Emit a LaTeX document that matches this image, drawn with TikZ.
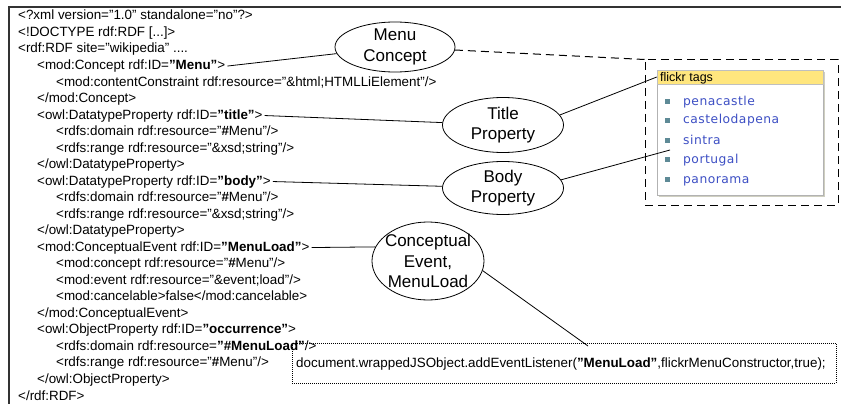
\documentclass[tikz,border=0pt]{standalone}
\usepackage{fontspec}
\setmainfont{Liberation Sans}
\newfontfamily\tagfont[LetterSpace=4]{DejaVu Sans}
\usetikzlibrary{shapes.geometric}
\definecolor{outline}{HTML}{333333}
\definecolor{tagblue}{HTML}{3D4FC4}
\definecolor{hdryellow}{HTML}{FFE67E}
\definecolor{bulletc}{HTML}{5E8A96}
\definecolor{shadowc}{HTML}{CFCFC0}
\begin{document}
\begin{tikzpicture}[x=1pt,y=-1pt,
  code/.style={anchor=base west, inner sep=0pt, font=\fontsize{13.4}{16}\selectfont},
  ellip/.style={draw, ellipse, line width=0.8pt, inner sep=0pt},
  elabel/.style={align=center, font=\fontsize{17}{20.5}\selectfont},
  link/.style={line width=0.8pt},
  dlink/.style={line width=1pt, dash pattern=on 8pt off 5pt},
  tag/.style={anchor=base west, inner sep=0pt, text=tagblue, font=\tagfont\fontsize{12.3}{14}\selectfont},
  bullet/.style={fill=bulletc, minimum size=5pt, inner sep=0pt},
]
\useasboundingbox (0,0) rectangle (841,404);
\draw[line width=1.2pt, outline] (9,420) -- (9,7) -- (860,7);

% code lines
\node[code] (l1)  at (18,20)    {<?xml version="1.0" standalone="no"?>};
\node[code] (l2)  at (18,36.5)  {<!DOCTYPE rdf:RDF [...]>};
\node[code] (l3)  at (18,53)    {<rdf:RDF site="wikipedia" ....};
\node[code] (l4)  at (37,69.5)  {<mod:Concept rdf:ID=\textbf{"Menu"}>};
\node[code] (l5)  at (56,86)    {<mod:contentConstraint rdf:resource="\&html;HTMLLiElement"/>};
\node[code] (l6)  at (37,102.5) {</mod:Concept>};
\node[code] (l7)  at (37,119)   {<owl:DatatypeProperty rdf:ID=\textbf{"title"}>};
\node[code] (l8)  at (56,135.5) {<rdfs:domain rdf:resource="\textbf{\#}Menu"/>};
\node[code] (l9)  at (56,152)   {<rdfs:range rdf:resource="\&xsd;string"/>};
\node[code] (l10) at (37,168.5) {</owl:DatatypeProperty>};
\node[code] (l11) at (37,185)   {<owl:DatatypeProperty rdf:ID=\textbf{"body"}>};
\node[code] (l12) at (56,201.5) {<rdfs:domain rdf:resource="\textbf{\#}Menu"/>};
\node[code] (l13) at (56,218)   {<rdfs:range rdf:resource="\&xsd;string"/>};
\node[code] (l14) at (37,234.5) {</owl:DatatypeProperty>};
\node[code] (l15) at (37,251)   {<mod:ConceptualEvent rdf:ID=\textbf{"MenuLoad"}>};
\node[code] (l16) at (56,267.5) {<mod:concept rdf:resource="\textbf{\#}Menu"/>};
\node[code] (l17) at (56,284)   {<mod:event rdf:resource="\&event;load"/>};
\node[code] (l18) at (56,300.5) {<mod:cancelable>false</mod:cancelable>};
\node[code] (l19) at (37,317)   {</mod:ConceptualEvent>};
\node[code] (l20) at (37,333.5) {<owl:ObjectProperty rdf:ID=\textbf{"occurrence"}>};
\node[code] (l21) at (56,350)   {<rdfs:domain rdf:resource=\textbf{"\#MenuLoad"}/>};
\node[code] (l22) at (56,366.5) {<rdfs:range rdf:resource="\textbf{\#}Menu"/>};
\node[code] (l23) at (37,383)   {</owl:ObjectProperty>};
\node[code] (l24) at (18,400)   {</rdf:RDF>};

% ellipses
\node[ellip, minimum width=120pt, minimum height=50pt,
  label={[elabel]center:{Menu\\Concept}}] (menuc) at (395,47) {};
\node[ellip, minimum width=121pt, minimum height=55pt,
  label={[elabel]center:{Title\\Property}}] (titlep) at (503,125) {};
\node[ellip, minimum width=121pt, minimum height=53pt,
  label={[elabel]center:{Body\\Property}}] (bodyp) at (503,188) {};
\node[ellip, minimum width=112pt, minimum height=78pt,
  label={[elabel]center:{Conceptual\\Event,\\MenuLoad}}] (event) at (428,261) {};

% flickr widget
\node[draw, line width=1pt, dash pattern=on 8pt off 5pt, minimum width=193pt,
  minimum height=145pt, inner sep=0pt] (dbox) at (741.5,132.5) {};
\fill[shadowc] (659,72) rectangle (825,197);
\node[draw=gray!60, fill=white, minimum width=166pt, minimum height=125pt,
  inner sep=0pt] (flickr) at (740,132.5) {};
\node[draw=gray!50, fill=hdryellow, minimum width=166pt, minimum height=14pt,
  inner sep=0pt] (hdr) at (740,77) {};
\node[anchor=base west, inner sep=0pt, font=\fontsize{12.5}{14}\selectfont] (hdrtext) at (660,81.5) {flickr tags};
\node[bullet] (b1) at (667,101) {};
\node[bullet] (b2) at (667,120) {};
\node[bullet] (b3) at (667,140) {};
\node[bullet] (b4) at (667,159) {};
\node[bullet] (b5) at (667,179) {};
\node[tag] (t1) at (683,105)   {penacastle};
\node[tag] (t2) at (683,124)   {castelodapena};
\node[tag] (t3) at (683,144)   {sintra};
\node[tag] (t4) at (683,163)   {portugal};
\node[tag] (t5) at (683,183)   {panorama};
\coordinate (bodyend) at (670,150);

% code box
\node[draw, line width=0.7pt, dash pattern=on 1pt off 1pt, minimum width=544pt,
  minimum height=40pt, inner sep=0pt] (jsbox) at (564,363) {};
\node[code] (jstext) at (296,367) {document.wrappedJSObject.addEventListener(\textbf{"MenuLoad"},flickrMenuConstructor,true);};
\coordinate (codeend) at (588,346);

% connectors
\draw[link] ([xshift=2pt]l4.east) -- (menuc);
\draw[link] ([xshift=2pt]l7.east) -- (titlep);
\draw[link] ([xshift=2pt]l11.east) -- (bodyp);
\draw[link] ([xshift=2pt]l15.east) -- (event.165);
\draw[dlink] (menuc) -- (dbox.north west);
\draw[link] (titlep.10) -- (hdr.west);
\draw[link] (bodyp.8) -- (bodyend);
\draw[link] (event.-10) -- (codeend);
\end{tikzpicture}
\end{document}
